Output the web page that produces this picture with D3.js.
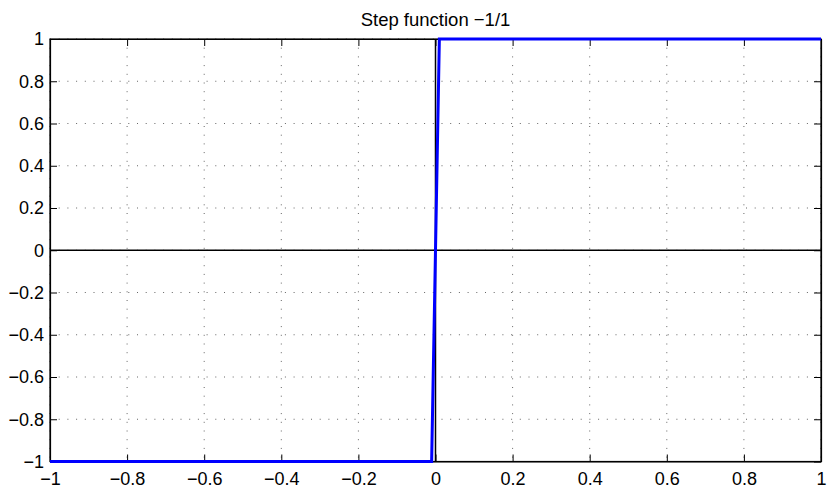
<!DOCTYPE html>
<html>
<head>
<meta charset="utf-8">
<script src="https://cdn.jsdelivr.net/npm/d3@7"></script>
<style>
  body { margin: 0; background: #fff; }
  svg { font-family: 'Liberation Sans', Arial, sans-serif; }
</style>
</head>
<body>
<div id="chart"></div>
<script>
// Step function data
const xVals = [-1, -0.01, 0.01, 1];
const yVals = [-1, -1, 1, 1];
const xTicks = [-1, -0.8, -0.6, -0.4, -0.2, 0, 0.2, 0.4, 0.6, 0.8, 1];
const yTicks = [-1, -0.8, -0.6, -0.4, -0.2, 0, 0.2, 0.4, 0.6, 0.8, 1];
const title = 'Step function \u22121/1';

const width = 829;
const height = 491;
const margin = { top: 39, right: 8, bottom: 29.5, left: 50 };
const plotW = width - margin.left - margin.right;
const plotH = height - margin.top - margin.bottom;

const fmt = (d) => (d < 0 ? '\u2212' : '') + String(Math.abs(d));

const svg = d3
  .select('#chart')
  .append('svg')
  .attr('width', width)
  .attr('height', height)
  .append('g')
  .attr('transform', 'translate(' + margin.left + ',' + margin.top + ')');

const x = d3.scaleLinear().domain([-1, 1]).range([0, plotW]);
const y = d3.scaleLinear().domain([-1, 1]).range([plotH, 0]);

// Dotted grid
svg
  .selectAll('.vgrid')
  .data(xTicks)
  .enter()
  .append('line')
  .attr('x1', (d) => x(d))
  .attr('x2', (d) => x(d))
  .attr('y1', 0)
  .attr('y2', plotH)
  .style('stroke', '#666')
  .style('stroke-width', 1)
  .style('stroke-dasharray', '1,7.7');

svg
  .selectAll('.hgrid')
  .data(yTicks)
  .enter()
  .append('line')
  .attr('y1', (d) => y(d))
  .attr('y2', (d) => y(d))
  .attr('x1', 0)
  .attr('x2', plotW)
  .style('stroke', '#666')
  .style('stroke-width', 1)
  .style('stroke-dasharray', '1,7.7');

// Zero lines
svg
  .append('line')
  .attr('x1', x(0))
  .attr('x2', x(0))
  .attr('y1', 0)
  .attr('y2', plotH)
  .style('stroke', '#000')
  .style('stroke-width', 1.5);

svg
  .append('line')
  .attr('x1', 0)
  .attr('x2', plotW)
  .attr('y1', y(0))
  .attr('y2', y(0))
  .style('stroke', '#000')
  .style('stroke-width', 1.5);

// Axes with inward ticks
const xAxis = d3.axisBottom(x).tickValues(xTicks).tickFormat(fmt).tickSizeInner(-7).tickSizeOuter(0).tickPadding(11);
const yAxis = d3.axisLeft(y).tickValues(yTicks).tickFormat(fmt).tickSizeInner(-7).tickSizeOuter(0);

const gx = svg.append('g').attr('transform', 'translate(0,' + plotH + ')').call(xAxis);
const gy = svg.append('g').call(yAxis);
svg.append('g').call(d3.axisTop(x).tickValues(xTicks).tickFormat('').tickSizeInner(-7).tickSizeOuter(0));
svg.append('g').attr('transform', 'translate(' + plotW + ',0)')
  .call(d3.axisRight(y).tickValues(yTicks).tickFormat('').tickSizeInner(-7).tickSizeOuter(0));

svg.selectAll('.domain').style('stroke', '#000').style('stroke-width', 1.2);
svg.selectAll('.tick line').style('stroke', '#000');
gx.selectAll('text').style('font-size', '18px').style('fill', '#000');
gy.selectAll('text').style('font-size', '18px').style('fill', '#000').attr('x', -6);

// Box frame
svg
  .append('rect')
  .attr('width', plotW)
  .attr('height', plotH)
  .style('fill', 'none')
  .style('stroke', '#000')
  .style('stroke-width', 1.2);

// Step line
const line = d3
  .line()
  .x((d, i) => x(xVals[i]))
  .y((d, i) => y(yVals[i]));

svg
  .append('path')
  .datum(xVals)
  .attr('d', line)
  .style('fill', 'none')
  .style('stroke', '#0000ff')
  .style('stroke-width', 3);

// Title
svg
  .append('text')
  .attr('x', plotW / 2)
  .attr('y', -13)
  .attr('text-anchor', 'middle')
  .style('font-size', '18.5px')
  .text(title);
</script>
</body>
</html>
